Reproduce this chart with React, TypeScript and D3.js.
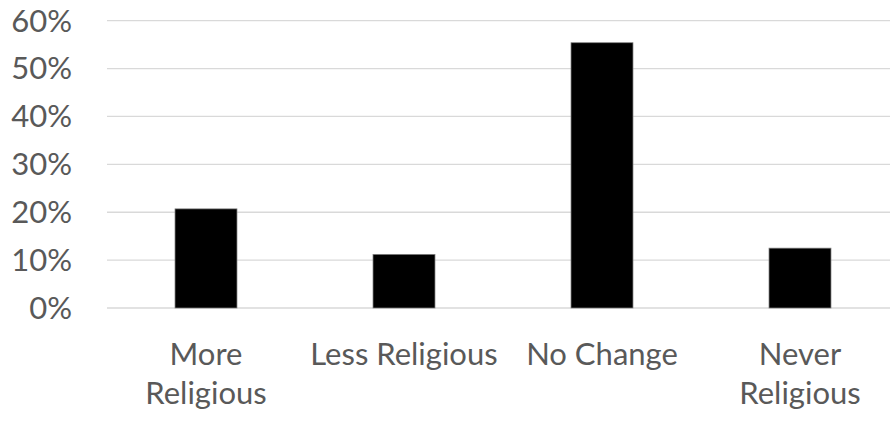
import React from "react";
import * as d3 from "d3";

const categories: string[][] = [["More", "Religious"], ["Less Religious"], ["No Change"], ["Never", "Religious"]];
const values: number[] = [0.207, 0.112, 0.554, 0.125];
const yTicks: number[] = [0, 0.1, 0.2, 0.3, 0.4, 0.5, 0.6];

const W = 890;
const H = 421;
const FONT = "Lato, 'Open Sans', sans-serif";

export default function App() {
  const keys = categories.map((c) => c.join(" "));
  const x = d3.scaleBand<string>().domain(keys).range([107, 899]).paddingInner(0.687).paddingOuter(0.3435);
  const y = d3.scaleLinear().domain([0, 0.6]).range([308, 20.7]);
  const fmt = d3.format(".0%");
  return (
    <svg width={W} height={H} style={{ position: "absolute", left: 0, top: 0, background: "#fff" }}>
      {yTicks.map((t) => (
        <g key={t}>
          <line x1={107} x2={W} y1={y(t)} y2={y(t)} stroke="#d9d9d9" strokeWidth={1.3} />
          <text x={72} y={y(t)} dy="0.35em" textAnchor="end" fill="#595959" fontFamily={FONT} fontSize={31}>
            {fmt(t)}
          </text>
        </g>
      ))}
      {values.map((v, i) => (
        <rect
          key={keys[i]}
          x={x(keys[i])}
          width={x.bandwidth()}
          y={y(v)}
          height={y(0) - y(v)}
          fill="#000"
          stroke="#7f7f7f"
          strokeWidth={0.75}
        />
      ))}
      {categories.map((lines, i) => (
        <text
          key={keys[i]}
          x={(x(keys[i]) as number) + x.bandwidth() / 2}
          y={365}
          textAnchor="middle"
          fill="#595959"
          fontFamily={FONT}
          fontSize={31}
        >
          {lines.map((l, j) => (
            <tspan key={j} x={(x(keys[i]) as number) + x.bandwidth() / 2} dy={j === 0 ? 0 : 39}>
              {l}
            </tspan>
          ))}
        </text>
      ))}
    </svg>
  );
}
